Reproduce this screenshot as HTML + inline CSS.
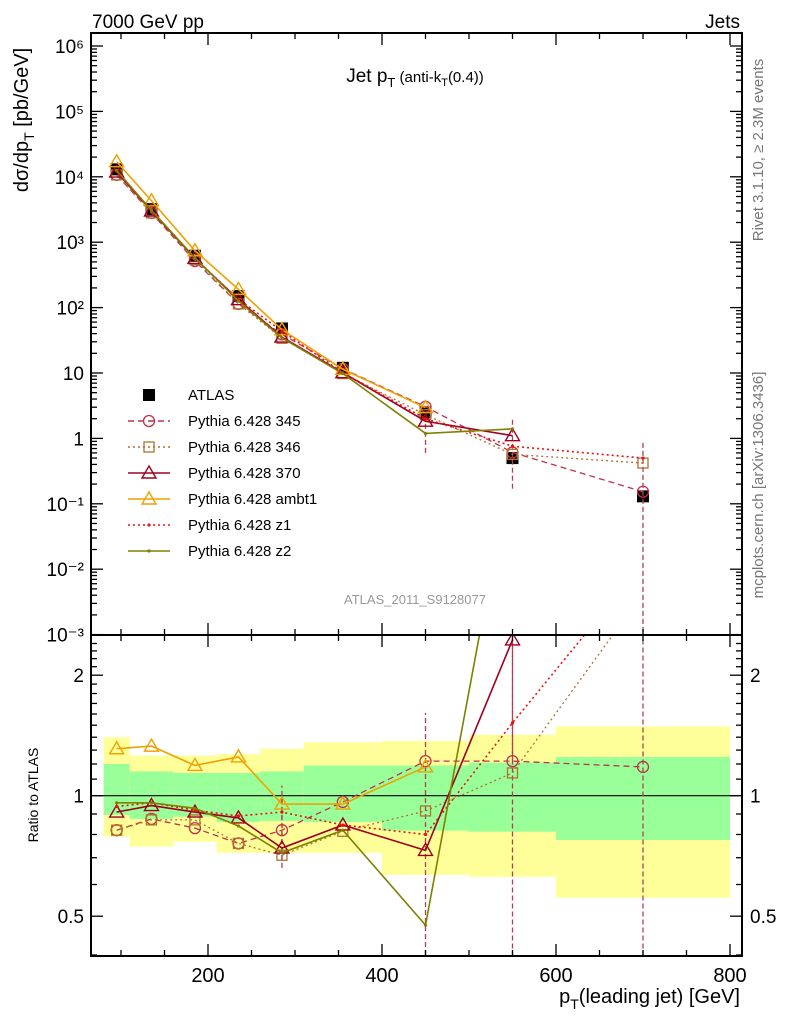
<!DOCTYPE html>
<html><head><meta charset="utf-8"><style>
html,body{margin:0;background:#fff;overflow:hidden;width:786px;height:1024px}
svg{display:block;font-family:"Liberation Sans",Arial,sans-serif}
</style></head><body>
<svg id="c" width="786" height="1024" xmlns="http://www.w3.org/2000/svg">
<text x="92" y="28" font-size="19">7000 GeV pp</text>
<text x="740" y="28" font-size="19" text-anchor="end">Jets</text>
<text x="415" y="82" font-size="19" text-anchor="middle">Jet p<tspan font-size="13" dy="5">T</tspan><tspan dy="-5" font-size="15"> (anti-k</tspan><tspan font-size="11" dy="4">T</tspan><tspan font-size="15" dy="-4">(0.4))</tspan></text>
<text x="415" y="604" font-size="13" fill="#999" text-anchor="middle">ATLAS_2011_S9128077</text>
<text transform="translate(763,150) rotate(-90)" font-size="15" fill="#777" text-anchor="middle">Rivet 3.1.10, ≥ 2.3M events</text>
<text transform="translate(763,485) rotate(-90)" font-size="15" fill="#777" text-anchor="middle">mcplots.cern.ch [arXiv:1306.3436]</text>
<text transform="translate(28,120) rotate(-90)" font-size="20" text-anchor="middle">dσ/dp<tspan font-size="14" dy="6">T</tspan><tspan dy="-6"> [pb/GeV]</tspan></text>
<text transform="translate(38,795) rotate(-90)" font-size="14" text-anchor="middle">Ratio to ATLAS</text>
<text x="740" y="1003" font-size="20" text-anchor="end">p<tspan font-size="14" dy="6">T</tspan><tspan dy="-6">(leading jet) [GeV]</tspan></text>
<g id="g"></g>
</svg>
<script>
const NS="http://www.w3.org/2000/svg";
const pts=[95,135,185,235,285,355,450,550,700];
const binEdges=[80,110,160,210,260,310,400,500,600,800];
const yellowHi=[1.40,1.26,1.26,1.27,1.31,1.36,1.37,1.42,1.49];
const yellowLo=[0.79,0.746,0.767,0.72,0.72,0.72,0.634,0.627,0.556];
const greenHi=[1.20,1.15,1.14,1.14,1.15,1.19,1.19,1.21,1.25];
const greenLo=[0.895,0.875,0.886,0.86,0.865,0.86,0.818,0.813,0.775];
const atlas=[1.3e4,3.2e3,620,150,48,12,2.5,0.5,0.13];
const m345=[1.07e4,2.8e3,515,114,39,11.6,3.05,0.61,0.153];
const m346=[1.07e4,2.8e3,540,114,34,9.8,2.3,0.57,0.42];
const m370=[1.18e4,3.0e3,565,132,35.5,10.1,1.83,1.1];
const mambt1=[1.7e4,4.3e3,740,190,46,11.4,2.95];
const mz1=[1.22e4,3.07e3,570,134,43.7,10.1,2.0,0.76,0.5];
const mz2=[1.25e4,3.07e3,577,126,34.5,9.8,1.19,1.4];
const r345=[0.82,0.875,0.83,0.76,0.82,0.965,1.22,1.22,1.18];
const r346=[0.82,0.87,0.87,0.76,0.71,0.815,0.916,1.14,3.2];
const r370=[0.91,0.945,0.91,0.88,0.74,0.845,0.73,2.45];
const rambt1=[1.31,1.33,1.19,1.25,0.953,0.953,1.18];
const rz1=[0.94,0.96,0.92,0.89,0.91,0.845,0.80,1.52,3.8];
const rz2=[0.96,0.96,0.93,0.84,0.72,0.82,0.475,7.0];
const mainTicks=["10⁶","10⁵","10⁴","10³","10²","10","1","10⁻¹","10⁻²","10⁻³"];
const L=91,R=742,T=33,MB=635,RB=956;
const X=g=>208+(g-200)*0.87;
const YM=v=>46+(6-Math.log10(v))*65.4;
const YR=r=>795.7-Math.log2(r)*120.5;
const G=document.getElementById('g');
function el(t,a,p){const e=document.createElementNS(NS,t);for(const k in a)e.setAttribute(k,a[k]);(p||G).appendChild(e);return e;}
const defs=el('defs',{});
const cp=el('clipPath',{id:'cm'},defs);el('rect',{x:L,y:T,width:R-L,height:MB-T},cp);
const cr=el('clipPath',{id:'cr'},defs);el('rect',{x:L,y:MB,width:R-L,height:RB-MB},cr);
for(let i=0;i<9;i++){
 let b=el('rect',{x:X(binEdges[i]),y:YR(yellowHi[i]),width:X(binEdges[i+1])-X(binEdges[i]),height:YR(yellowLo[i])-YR(yellowHi[i]),fill:'#ffff99'});
 
 b=el('rect',{x:X(binEdges[i]),y:YR(greenHi[i]),width:X(binEdges[i+1])-X(binEdges[i]),height:YR(greenLo[i])-YR(greenHi[i]),fill:'#99ff99'});
 
}
el('line',{x1:L,x2:R,y1:YR(1),y2:YR(1),stroke:'#000','stroke-width':1.2});
const series=[
 {n:'345',c:'#c0304a',d:'6,4',m:'circle',mv:m345,rv:r345,w:1.3},
 {n:'346',c:'#b07030',d:'2,3',m:'square',mv:m346,rv:r346,w:1.3},
 {n:'370',c:'#a00020',d:'',m:'tri',mv:m370,rv:r370,w:1.6},
 {n:'ambt1',c:'#f0a000',d:'',m:'tri',mv:mambt1,rv:rambt1,w:1.6},
 {n:'z1',c:'#ee1010',d:'2,3',m:'dot',mv:mz1,rv:rz1,w:1.6},
 {n:'z2',c:'#808000',d:'',m:'dot',mv:mz2,rv:rz2,w:1.6}];
function marker(type,x,y,c,parent){
 let e;
 if(type==='circle')e=el('circle',{cx:x,cy:y,r:5.5,fill:'none',stroke:c,'stroke-width':1.3},parent);
 else if(type==='square')e=el('rect',{x:x-5,y:y-5,width:10,height:10,fill:'none',stroke:c,'stroke-width':1.3},parent);
 else if(type==='tri')e=el('path',{d:`M${x} ${y-7}L${x+7} ${y+5}L${x-7} ${y+5}Z`,fill:'none',stroke:c,'stroke-width':1.4},parent);
 else if(type==='sq')e=el('rect',{x:x-6,y:y-6,width:12,height:12,fill:'#000'},parent);
 else e=el('circle',{cx:x,cy:y,r:1.6,fill:c},parent);
 return e;
}
const gm=el('g',{'clip-path':'url(#cm)'}),gr=el('g',{'clip-path':'url(#cr)'});
for(let i=0;i<atlas.length;i++){const m=marker('sq',X(pts[i]),YM(atlas[i]),'#000',gm);
 }
[[r345,7,0.05,2.6],[r345,8,0.05,2.6],[r370,7,1.22,2.6],[rambt1,6,0.4,1.61],[rz2,4,0.66,1.06],[r346,4,0.69,1.0]].forEach(([s,i,lo,hi])=>{
 el('line',{x1:X(pts[i]),x2:X(pts[i]),y1:YR(lo),y2:YR(hi),stroke:'#b04050','stroke-width':1.3,'stroke-dasharray':'5,3'},gr);});
[[6,0.6,2.0],[7,0.17,2.1],[8,0.0011,0.9]].forEach(([i,lo,hi])=>{
 el('line',{x1:X(pts[i]),x2:X(pts[i]),y1:YM(lo),y2:YM(hi),stroke:'#b04050','stroke-width':1.3,'stroke-dasharray':'5,3'},gm);});
series.forEach(s=>{
 const pm=s.mv.map((v,i)=>X(pts[i])+','+YM(v)).join(' ');
 let p=el('polyline',{points:pm,fill:'none',stroke:s.c,'stroke-width':s.w,'stroke-dasharray':s.d},gm);
 
 s.mv.forEach((v,i)=>{const m=marker(s.m,X(pts[i]),YM(v),s.c,gm);});
 const pr=s.rv.map((v,i)=>X(pts[i])+','+YR(v)).join(' ');
 p=el('polyline',{points:pr,fill:'none',stroke:s.c,'stroke-width':s.w,'stroke-dasharray':s.d},gr);
 
 s.rv.forEach((v,i)=>{const m=marker(s.m,X(pts[i]),YR(v),s.c,gr);});
});
el('rect',{x:L,y:T,width:R-L,height:MB-T,fill:'none',stroke:'#000','stroke-width':2});
el('rect',{x:L,y:MB,width:R-L,height:RB-MB,fill:'none',stroke:'#000','stroke-width':2});
for(let gv=100;gv<=800;gv+=50){const x=X(gv),big=gv%200===0,l=big?12:6;
 [[T,1],[MB,-1],[MB,1],[RB,-1]].forEach(([y,d])=>el('line',{x1:x,x2:x,y1:y,y2:y+d*l,stroke:'#000','stroke-width':1.3}));
 if(big){const t=el('text',{x:x,y:982,'font-size':20,'text-anchor':'middle'});t.textContent=gv;
 }}
for(let e=-3;e<=6;e++){for(let k=1;k<10;k++){const v=k*Math.pow(10,e),y=YM(v);if(y<T||y>MB)continue;const l=k===1?12:6;
 el('line',{x1:L,x2:L+l,y1:y,y2:y,stroke:'#000','stroke-width':1.3});el('line',{x1:R,x2:R-l,y1:y,y2:y,stroke:'#000','stroke-width':1.3});}}
mainTicks.forEach((s,i)=>{const t=el('text',{x:84,y:YM(Math.pow(10,6-i))+7,'font-size':19,'text-anchor':'end'});t.textContent=s;
 });
[0.4,0.5,0.6,0.7,0.8,0.9,1,2].forEach(v=>{const y=YR(v),l=(v===1||v===2||v===0.5)?12:6;
 el('line',{x1:L,x2:L+l,y1:y,y2:y,stroke:'#000','stroke-width':1.3});el('line',{x1:R,x2:R-l,y1:y,y2:y,stroke:'#000','stroke-width':1.3});});
for(let v=1.1;v<2.5;v+=0.1){if(Math.abs(v-2)<0.01)continue;const y=YR(v);el('line',{x1:L,x2:L+6,y1:y,y2:y,stroke:'#000','stroke-width':1.3});el('line',{x1:R,x2:R-6,y1:y,y2:y,stroke:'#000','stroke-width':1.3});}
[["2",2],["1",1],["0.5",0.5]].forEach(([s,v])=>{
 let t=el('text',{x:84,y:YR(v)+7,'font-size':19,'text-anchor':'end'});t.textContent=s;
 t=el('text',{x:750,y:YR(v)+7,'font-size':19});t.textContent=s;});
const leg=[['ATLAS','#000','','sq'],...series.map(s=>['Pythia 6.428 '+s.n,s.c,s.d,s.m])];
leg.forEach((l,i)=>{const y=395+i*26;
 const g=el('g',{});
 if(i>0)el('line',{x1:128,x2:170,y1:y,y2:y,stroke:l[1],'stroke-width':1.4,'stroke-dasharray':l[2]},g);
 marker(l[3],149,y,l[1],g);
 const t=el('text',{x:188,y:y+5,'font-size':15},g);t.textContent=l[0];});
</script>
</body></html>
